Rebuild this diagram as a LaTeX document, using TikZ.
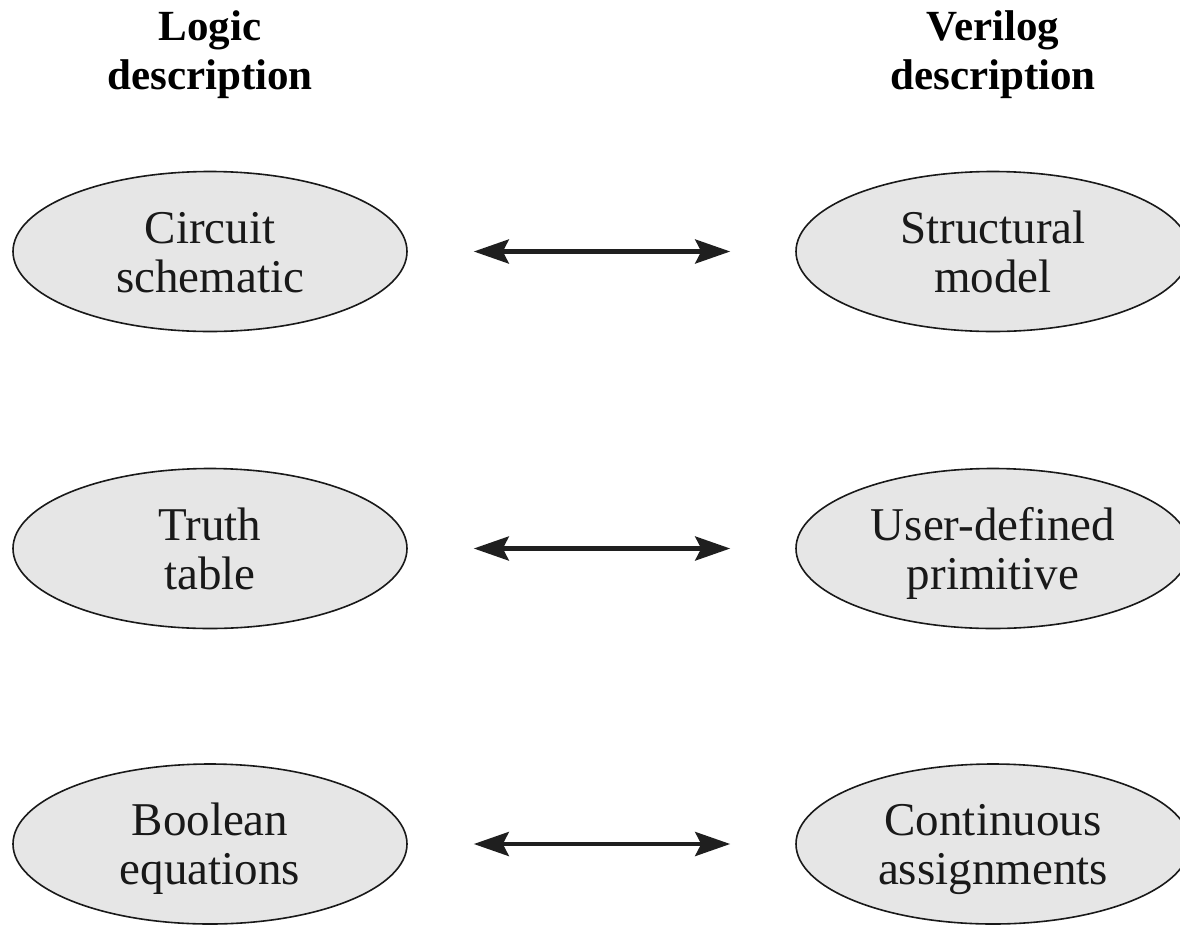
\documentclass[tikz,border=0pt]{standalone}
\usepackage{fontspec}
\setmainfont{Liberation Serif}
\usetikzlibrary{arrows.meta,shapes.geometric}
\newcommand\toprule{\rule{0pt}{44pt}}
\newcommand\botrule{\rule[-12pt]{0pt}{12pt}}
\newcommand\htop{\rule{0pt}{35pt}}
\newcommand\hbot{\rule[-14pt]{0pt}{14pt}}
\definecolor{ovfill}{RGB}{230,230,230}
\definecolor{ovline}{RGB}{25,25,25}
\tikzset{
  oval/.style={ellipse, draw=ovline, line width=1.6pt, fill=ovfill,
    minimum width=394pt, minimum height=160pt, inner sep=0pt,
    align=center, font=\fontsize{47}{49}\selectfont, text=black!90},
  head/.style={align=center, inner sep=0pt, font=\fontsize{43}{49}\selectfont\bfseries},
  dbl/.style={{Stealth[length=35pt,width=24pt,inset=6pt]}-{Stealth[length=35pt,width=24pt,inset=6pt]},
    line width=4.3pt, draw=black!88},
}
\begin{document}
\begin{tikzpicture}[x=1pt,y=-1pt]
\useasboundingbox (0,0) rectangle (1180,924);
\node[head] (hl) at (210,54) {\htop Logic\\description\hbot};
\node[head] (hr) at (993,54) {\htop Verilog\\description\hbot};

\node[oval] (l1) at (210,251.5) {\toprule Circuit\\schematic\botrule};
\node[oval] (r1) at (993,251.5) {\toprule Structural\\model\botrule};
\node[oval] (l2) at (210,548.5) {\toprule Truth\\table\botrule};
\node[oval] (r2) at (993,548.5) {\toprule User-defined\\primitive\botrule};
\node[oval] (l3) at (210,844) {\toprule Boolean\\equations\botrule};
\node[oval] (r3) at (993,844) {\toprule Continuous\\assignments\botrule};

\draw[dbl, shorten <=66pt, shorten >=65pt] (l1.east) -- (r1.west);
\draw[dbl, shorten <=66pt, shorten >=65pt] (l2.east) -- (r2.west);
\draw[dbl, shorten <=66pt, shorten >=65pt] (l3.east) -- (r3.west);
\end{tikzpicture}
\end{document}
